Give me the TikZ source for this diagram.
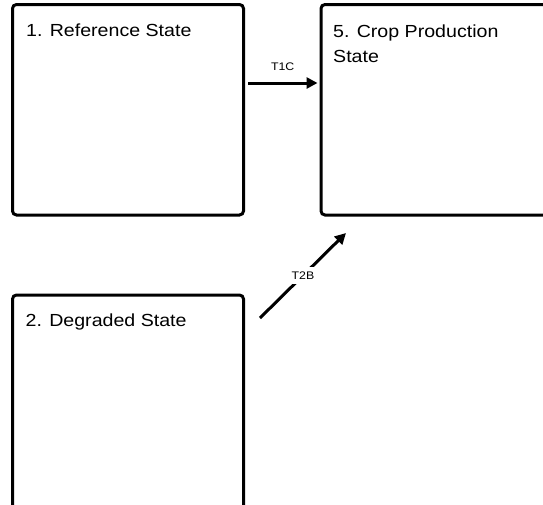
\documentclass[tikz,border=0pt]{standalone}
\usepackage{fontspec}
\setmainfont{Liberation Sans}[FakeStretch=1.12]
\usetikzlibrary{arrows.meta,calc}
\tikzset{
  statebox/.style={draw=black, line width=3pt, rounded corners=4pt, fill=white,
    inner sep=0pt, outer sep=0pt, minimum width=231pt},
  titletext/.style={anchor=base west, inner sep=0pt, align=left,
    font=\fontsize{17.5}{25}\selectfont},
  arr/.style={line width=3pt, -{Triangle[length=11pt,width=11pt]}},
  lbl/.style={font=\fontsize{11}{13}\selectfont, inner sep=1pt},
}
\begin{document}
\begin{tikzpicture}[x=1pt,y=-1pt]
\useasboundingbox (0,0) rectangle (543,504);
\clip (0,0) rectangle (543,504);
\node[statebox, minimum height=210.5pt, anchor=north west] (b1) at (12.5,4.5) {};
\node[statebox, minimum height=210.5pt, minimum width=250pt, anchor=north west] (b5) at (321,4.5) {};
\node[statebox, minimum height=230pt, anchor=north west] (b2) at (12.5,295) {};
\node[titletext] (t1) at ($(b1.north west)+(13.5,32.2)$) {1. Reference State};
\node[titletext] (t5) at ($(b5.north west)+(12,57.5)$) {5. Crop Production\\State};
\node[titletext] (t2) at ($(b2.north west)+(13,31.7)$) {2. Degraded State};
\draw[arr] ($(b1.east)+(4.5,-26.75)$) -- node[lbl, above=10pt] (l1) {T1C} ($(b5.west)+(-3.5,-26.75)$);
\draw[arr] ($(b2.north east)+(16.5,23)$) -- node[lbl, fill=white, inner sep=5pt, pos=0.5] (l2) {T2B} ($(b5.south west)+(25,18)$);
\end{tikzpicture}
\end{document}
